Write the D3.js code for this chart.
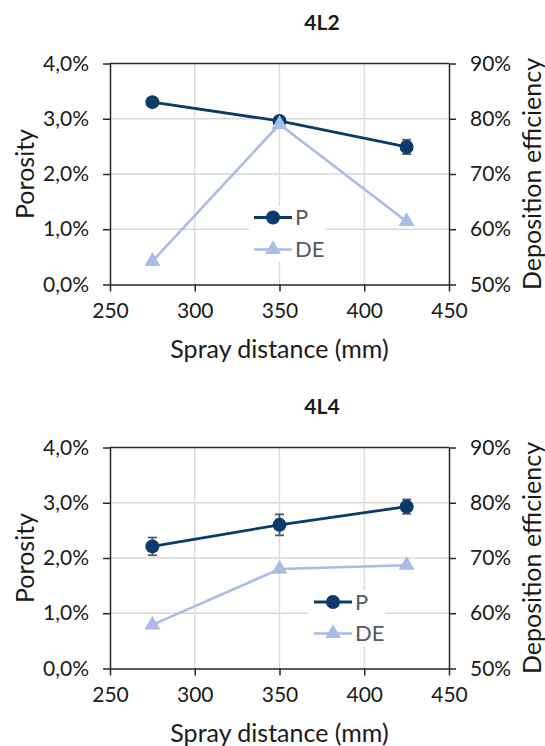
<!DOCTYPE html>
<html><head><meta charset="utf-8">
<script src="https://cdn.jsdelivr.net/npm/d3@7"></script>
<style>
html,body{margin:0;padding:0;background:#fff;}
svg{display:block;font-family:Lato,"Open Sans",sans-serif;}
</style></head>
<body>
<svg id="chart" width="545" height="746"></svg>
<script>
// ---- data ----
const distances = [275, 350, 425];
const xTicks = [250, 300, 350, 400, 450];
const porosityTicks = [0, 1, 2, 3, 4];
const deTicks = [50, 60, 70, 80, 90];

const titles = ["4L2", "4L4"];
const p4L2 = [3.30, 2.96, 2.49];
const p4L2Err = [0.05, 0.06, 0.13];
const de4L2 = [54.2, 79.0, 61.4];
const p4L4 = [2.21, 2.60, 2.93];
const p4L4Err = [0.16, 0.19, 0.13];
const de4L4 = [57.9, 68.0, 68.7];
const legendLabels = ["P", "DE"];

// ---- styles ----
const navy = "#0c3a6a";
const light = "#a8bce4";
const grid = "#d9d9d9";
const axisCol = "#262626";
const textCol = "#1a1a1a";

const svg = d3.select("#chart");
const loc = d3.formatLocale({decimal: ",", thousands: ".", grouping: [3], currency: ["", ""]});
const fmtP = d => loc.format(".1f")(d) + "%";
const fmtDE = d => d + "%";

const x = d3.scaleLinear().domain([250, 450]).range([110, 449]);

const panels = [
  {title: titles[0], p: p4L2, err: p4L2Err, de: de4L2, top: 63.5, bottom: 284.5, titleY: 30,
   legend: {x0: 249, x1: 325, y0: 206, y1: 262, lx0: 254, lx1: 292, py: 217.5, dy: 249.5, tx: 295}},
  {title: titles[1], p: p4L4, err: p4L4Err, de: de4L4, top: 447.5, bottom: 668.5, titleY: 414,
   legend: {x0: 309, x1: 385, y0: 590, y1: 646, lx0: 314, lx1: 352, py: 602, dy: 633.5, tx: 355}}
];

panels.forEach(pn => {
  const g = svg.append("g");
  const y = d3.scaleLinear().domain([0, 4]).range([pn.bottom, pn.top]);
  const y2 = d3.scaleLinear().domain([50, 90]).range([pn.bottom, pn.top]);
  const [xl, xr] = x.range();

  // title
  g.append("text").attr("x", 322).attr("y", pn.titleY).attr("text-anchor", "middle")
    .attr("font-weight", "bold").attr("font-size", 21).attr("fill", textCol).text(pn.title);

  // gridlines
  g.append("g").selectAll("line.gx").data(xTicks.slice(1, -1)).join("line")
    .attr("x1", d => x(d)).attr("x2", d => x(d)).attr("y1", pn.top).attr("y2", pn.bottom)
    .attr("stroke", grid).attr("stroke-width", 1.3);
  g.append("g").selectAll("line.gy").data(porosityTicks.slice(1, -1)).join("line")
    .attr("x1", xl).attr("x2", xr).attr("y1", d => y(d)).attr("y2", d => y(d))
    .attr("stroke", grid).attr("stroke-width", 1.3);

  // axes
  const axB = g.append("g").attr("transform", `translate(0,${pn.bottom})`)
    .call(d3.axisBottom(x).tickValues(xTicks).tickSizeOuter(0).tickSizeInner(7).tickPadding(12));
  const axL = g.append("g").attr("transform", `translate(${xl},0)`)
    .call(d3.axisLeft(y).tickValues(porosityTicks).tickFormat(fmtP).tickSizeOuter(0).tickSizeInner(7).tickPadding(14));
  const axR = g.append("g").attr("transform", `translate(${xr},0)`)
    .call(d3.axisRight(y2).tickValues(deTicks).tickFormat(fmtDE).tickSizeOuter(0).tickSizeInner(7).tickPadding(14));
  [axB, axL, axR].forEach(a => {
    a.select(".domain").attr("stroke", axisCol).attr("stroke-width", 1.5);
    a.selectAll(".tick line").attr("stroke", axisCol).attr("stroke-width", 1.5);
    a.selectAll(".tick text").attr("font-size", 21).attr("fill", textCol)
      .attr("font-family", "Lato, 'Open Sans', sans-serif");
  });
  // top border
  g.append("line").attr("x1", xl).attr("x2", xr).attr("y1", pn.top).attr("y2", pn.top)
    .attr("stroke", axisCol).attr("stroke-width", 1.5);

  // axis titles
  g.append("text").attr("x", (xl + xr) / 2).attr("y", pn.bottom + 73).attr("text-anchor", "middle")
    .attr("font-size", 25).attr("fill", textCol).text("Spray distance (mm)");
  const cy = (pn.top + pn.bottom) / 2;
  g.append("text").attr("transform", `translate(34,${cy}) rotate(-90)`).attr("text-anchor", "middle")
    .attr("font-size", 25).attr("fill", textCol).text("Porosity");
  g.append("text").attr("transform", `translate(541,${cy}) rotate(-90)`).attr("text-anchor", "middle")
    .attr("font-size", 25).attr("fill", textCol).text("Deposition efficiency");

  const pData = distances.map((d, i) => ({x: d, v: pn.p[i], e: pn.err[i]}));
  const deData = distances.map((d, i) => ({x: d, v: pn.de[i]}));

  // error bars
  const eb = g.append("g").attr("stroke", "#595959").attr("stroke-width", 1.8);
  pData.forEach(d => {
    eb.append("line").attr("x1", x(d.x)).attr("x2", x(d.x)).attr("y1", y(d.v - d.e)).attr("y2", y(d.v + d.e));
    [d.v - d.e, d.v + d.e].forEach(v => eb.append("line")
      .attr("x1", x(d.x) - 4.5).attr("x2", x(d.x) + 4.5).attr("y1", y(v)).attr("y2", y(v)));
  });

  // P line + markers
  g.append("path").datum(pData).attr("fill", "none").attr("stroke", navy).attr("stroke-width", 2.8)
    .attr("d", d3.line().x(d => x(d.x)).y(d => y(d.v)));
  g.append("g").selectAll("circle").data(pData).join("circle")
    .attr("cx", d => x(d.x)).attr("cy", d => y(d.v)).attr("r", 7).attr("fill", navy);

  // DE line + markers
  g.append("path").datum(deData).attr("fill", "none").attr("stroke", light).attr("stroke-width", 2.6)
    .attr("d", d3.line().x(d => x(d.x)).y(d => y2(d.v)));
  const tri = d3.symbol().type(d3.symbolTriangle).size(110);
  g.append("g").selectAll("path").data(deData).join("path")
    .attr("transform", d => `translate(${x(d.x)},${y2(d.v)})`).attr("d", tri).attr("fill", light);

  // legend
  const L = pn.legend;
  const lg = g.append("g");
  lg.append("rect").attr("x", L.x0).attr("y", L.y0).attr("width", L.x1 - L.x0).attr("height", L.y1 - L.y0)
    .attr("fill", "#fff");
  const mx = (L.lx0 + L.lx1) / 2;
  lg.append("line").attr("x1", L.lx0).attr("x2", L.lx1).attr("y1", L.py).attr("y2", L.py)
    .attr("stroke", navy).attr("stroke-width", 2.8);
  lg.append("circle").attr("cx", mx).attr("cy", L.py).attr("r", 7).attr("fill", navy);
  lg.append("line").attr("x1", L.lx0).attr("x2", L.lx1).attr("y1", L.dy).attr("y2", L.dy)
    .attr("stroke", light).attr("stroke-width", 2.6);
  lg.append("path").attr("transform", `translate(${mx},${L.dy})`).attr("d", tri).attr("fill", light);
  lg.append("text").attr("x", L.tx).attr("y", L.py).attr("dy", "0.35em").attr("font-size", 22)
    .attr("fill", "#595959").text(legendLabels[0]);
  lg.append("text").attr("x", L.tx).attr("y", L.dy).attr("dy", "0.35em").attr("font-size", 22)
    .attr("fill", "#595959").text(legendLabels[1]);
});
</script>
</body></html>
